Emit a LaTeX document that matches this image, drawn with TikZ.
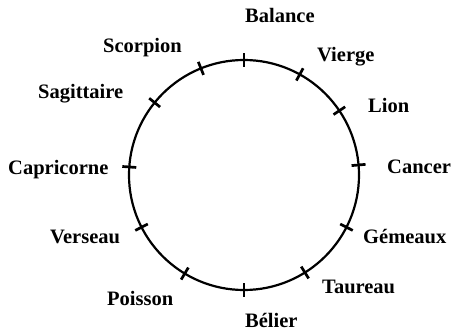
\documentclass[tikz,border=0pt]{standalone}
\usepackage{fontspec}
\setmainfont{Liberation Serif}
\usetikzlibrary{positioning}

\begin{document}
\begin{tikzpicture}[x=1pt, y=1pt,
  sign/.style={anchor=base west, inner sep=0pt, font=\bfseries\fontsize{20.5}{24}\selectfont},
  ring/.style={line width=2.2pt},
  tickmark/.style={line width=2.7pt},
]
  \useasboundingbox (0,0) rectangle (451,333);
  \coordinate (o) at (244,158);

  % the circle and its twelve marks
  \draw[ring] (o) circle (115);
  \foreach \a in {90,61,34,5,-27,-58,-90,-121,-153,176,141,112}
    \draw[tickmark, shift={(o)}] (\a:108) -- (\a:122);

  % the signs
  \node[sign] (balance)    at (245,310) {Balance};
  \node[sign] (vierge)     at (317,271) {Vierge};
  \node[sign] (lion)       at (368,221) {Lion};
  \node[sign] (cancer)     at (387,160) {Cancer};
  \node[sign] (gemeaux)    at (363,90)  {Gémeaux};
  \node[sign] (taureau)    at (322,40)  {Taureau};
  \node[sign] (belier)     at (245,6)   {Bélier};
  \node[sign] (poisson)    at (107,28)  {Poisson};
  \node[sign] (verseau)    at (50,90)   {Verseau};
  \node[sign] (capricorne) at (8,158)   {Capricorne};
  \node[sign] (sagittaire) at (38,235)  {Sagittaire};
  \node[sign] (scorpion)   at (103,280) {Scorpion};
\end{tikzpicture}
\end{document}
